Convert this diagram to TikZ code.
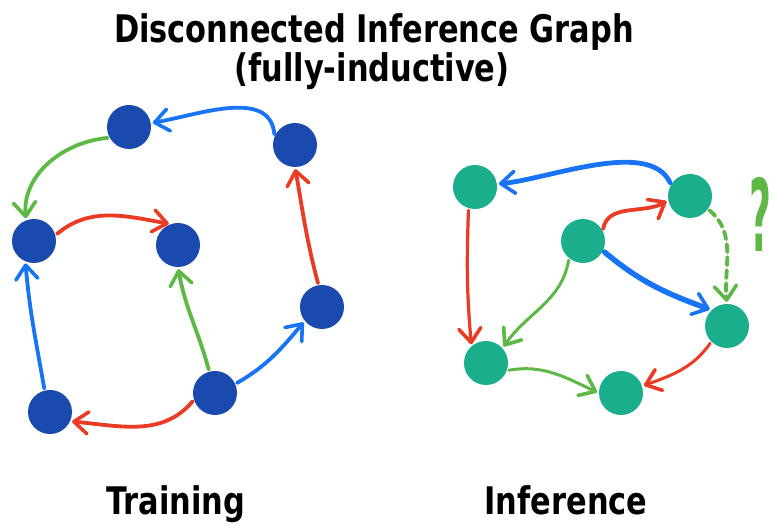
\documentclass[tikz,border=0pt]{standalone}
\usepackage{fontspec}
\newfontfamily\handfont{DejaVu Sans Condensed}[BoldFont={DejaVu Sans Condensed Bold}]
\usetikzlibrary{arrows.meta, positioning}
\definecolor{nodeblue}{HTML}{1A4AAE}
\definecolor{nodeteal}{HTML}{1BAE8C}
\definecolor{edgeblue}{HTML}{1873F5}
\definecolor{edgered}{HTML}{EA3B24}
\definecolor{edgegreen}{HTML}{5DB846}
\tikzset{
x=1pt, y=1pt, % one unit is one pixel of the picture
>={Straight Barb[length=14pt, width=22pt, line width=3.6pt, round]}, % open hand-drawn heads
graphnode/.style={circle, minimum size=44pt, inner sep=0pt}, % every vertex
trainnode/.style={graphnode, fill=nodeblue}, % vertices of the training graph
infnode/.style={graphnode, fill=nodeteal}, % vertices of the inference graph
link/.style={->, line width=3.8pt, line cap=round, shorten <=2pt, shorten >=2pt},
bluelink/.style={link, edgeblue},
redlink/.style={link, edgered},
greenlink/.style={link, edgegreen},
caption/.style={font=\handfont\bfseries\fontsize{38}{40}\selectfont, xscale=0.89, inner sep=0pt, anchor=base},
}

\begin{document}
\begin{tikzpicture}
        \useasboundingbox (0,0) rectangle (773,526);

        % training graph
        \node[trainnode] (t0) at (129,399) {};
        \node[trainnode] (t1) at (295,381) {};
        \node[trainnode] (t2) at (34,285) {};
        \node[trainnode] (t3) at (178,281) {};
        \node[trainnode] (t4) at (322,219) {};
        \node[trainnode] (t5) at (215,133) {};
        \node[trainnode] (t6) at (50,114) {};

        \draw (t1.157) edge[bluelink, out=95, in=10] (t0.10)
        (t0.209) edge[greenlink, out=185, in=95] (t2.111)
        (t2.15) edge[redlink, out=40, in=170] (t3.109)
        (t6.104) edge[bluelink, out=100, in=-85] (t2.247)
        (t5.105) edge[greenlink, out=105, in=-80] (t3.270)
        (t5.24) edge[bluelink, out=30, in=230] (t4.219)
        (t5.198) edge[redlink, out=230, in=-5] (t6.-25)
        (t4.99) edge[redlink, out=105, in=-80] (t1.270);

        % inference graph
        \node[infnode] (i0) at (475,339) {};
        \node[infnode] (i1) at (690,330) {};
        \node[infnode] (i2) at (583,285) {};
        \node[infnode] (i3) at (727,200) {};
        \node[infnode] (i4) at (486,163) {};
        \node[infnode] (i5) at (621,133) {};

        \draw (i1.149) edge[bluelink, line width=4.8pt, out=115, in=5, looseness=0.75] (i0.8)
        (i2.27) edge[redlink, out=80, in=210] (i1.191)
        (i2.-26) edge[bluelink, line width=5.5pt, out=-40, in=160] (i3.134)
        (i2.231) edge[greenlink, line width=3pt, out=-100, in=55] (i4.42)
        (i0.253) edge[redlink, line width=3.2pt, out=-92, in=95] (i4.131)
        (i4.-20) edge[greenlink, line width=3pt, out=10, in=155] (i5.180)
        (i3.225) edge[redlink, line width=3pt, out=-125, in=20] (i5.18)
        (i1.-36) edge[greenlink, dash pattern=on 8pt off 5pt, out=-40, in=95] (i3.90);
        \node[text=edgegreen, font=\handfont\bfseries\fontsize{100}{100}\selectfont, xscale=0.42, inner sep=0pt, anchor=base] (query) at (760,274) {?};

        % captions
        \node[caption] (title) at (374,483) {Disconnected Inference Graph};
        \node[caption] (subtitle) at (372,444) {(fully-inductive)};
        \node[caption] (train) at (176,11) {Training};
        \node[caption] (infer) at (566,11) {Inference};
\end{tikzpicture}
\end{document}
